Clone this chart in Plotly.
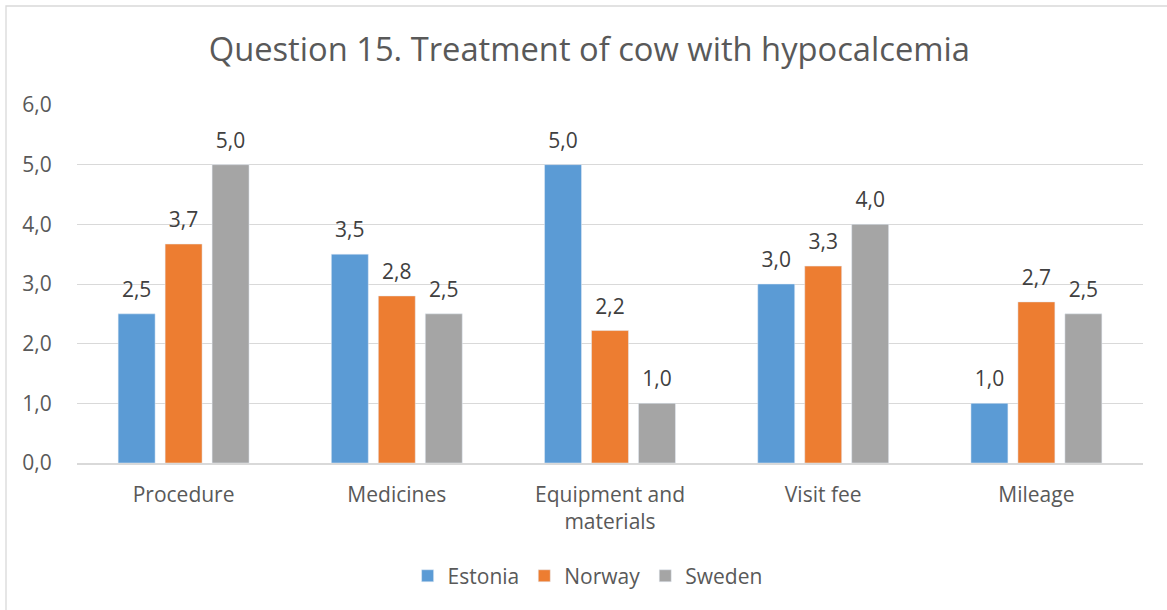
import plotly.graph_objects as go

categories = ["Procedure", "Medicines", "Equipment and<br>materials", "Visit fee", "Mileage"]
estonia = [2.5, 3.5, 5.0, 3.0, 1.0]
norway = [3.67, 2.8, 2.22, 3.3, 2.7]
sweden = [5.0, 2.5, 1.0, 4.0, 2.5]
series_names = ["Estonia", "Norway", "Sweden"]
series_colors = ["#5B9BD5", "#ED7D31", "#A5A5A5"]
y_ticks = [0, 1, 2, 3, 4, 5, 6]

FONT = "Open Sans"
FS = 21
fig = go.Figure()
for name, vals, col in zip(series_names, [estonia, norway, sweden], series_colors):
    fig.add_trace(go.Bar(x=categories, y=vals, name=name, marker_color=col,
                         offsetgroup=name, hoverinfo="skip"))
for name, vals in zip(series_names, [estonia, norway, sweden]):
    fig.add_trace(go.Scatter(x=categories, y=vals, mode="markers+text",
                             text=[f"{v:.1f}".replace(".", ",") for v in vals],
                             textposition="top center",
                             textfont=dict(family=FONT, size=FS, color="#404040"),
                             marker=dict(size=17, opacity=0),
                             offsetgroup=name, showlegend=False, hoverinfo="skip",
                             cliponaxis=False))

fig.update_layout(
    width=1167, height=610,
    margin=dict(l=77, r=24, t=105, b=147),
    paper_bgcolor="white", plot_bgcolor="white",
    barmode="group", scattermode="group",
    bargap=0.339, bargroupgap=0.213, scattergap=0.339,
    separators=", ",
    font=dict(family=FONT, color="#595959", size=FS),
    title=dict(text="Question 15. Treatment of cow with hypocalcemia",
               x=0.505, xref="container", xanchor="center",
               y=1 - 50 / 610, yref="container", yanchor="middle",
               font=dict(family=FONT, size=32.7, color="#595959")),
    legend=dict(orientation="h", x=0.479, xanchor="center", y=-0.316, yanchor="middle",
                font=dict(family=FONT, size=FS, color="#595959"), traceorder="normal"),
    xaxis=dict(showgrid=False, showline=True, linecolor="#D9D9D9", linewidth=1.5,
               ticks="outside", ticklen=12, tickcolor="rgba(0,0,0,0)",
               tickfont=dict(family=FONT, size=FS, color="#595959")),
    yaxis=dict(range=[0, 6], tickvals=y_ticks, tickformat=".1f",
               showgrid=True, gridcolor="#D9D9D9", gridwidth=1.3,
               zeroline=False, showline=False,
               ticks="outside", ticklen=20, tickcolor="rgba(0,0,0,0)",
               tickfont=dict(family=FONT, size=FS, color="#595959")),
    shapes=[dict(type="rect", xref="paper", yref="paper",
                 x0=(6 - 77) / 1066, x1=1.2, y0=-1, y1=(463 - 6) / 358,
                 line=dict(color="#D9D9D9", width=1.3), layer="below")],
)

fig.write_html("out.html", config={"displayModeBar": False},
               post_script="document.body.style.margin='0';")
